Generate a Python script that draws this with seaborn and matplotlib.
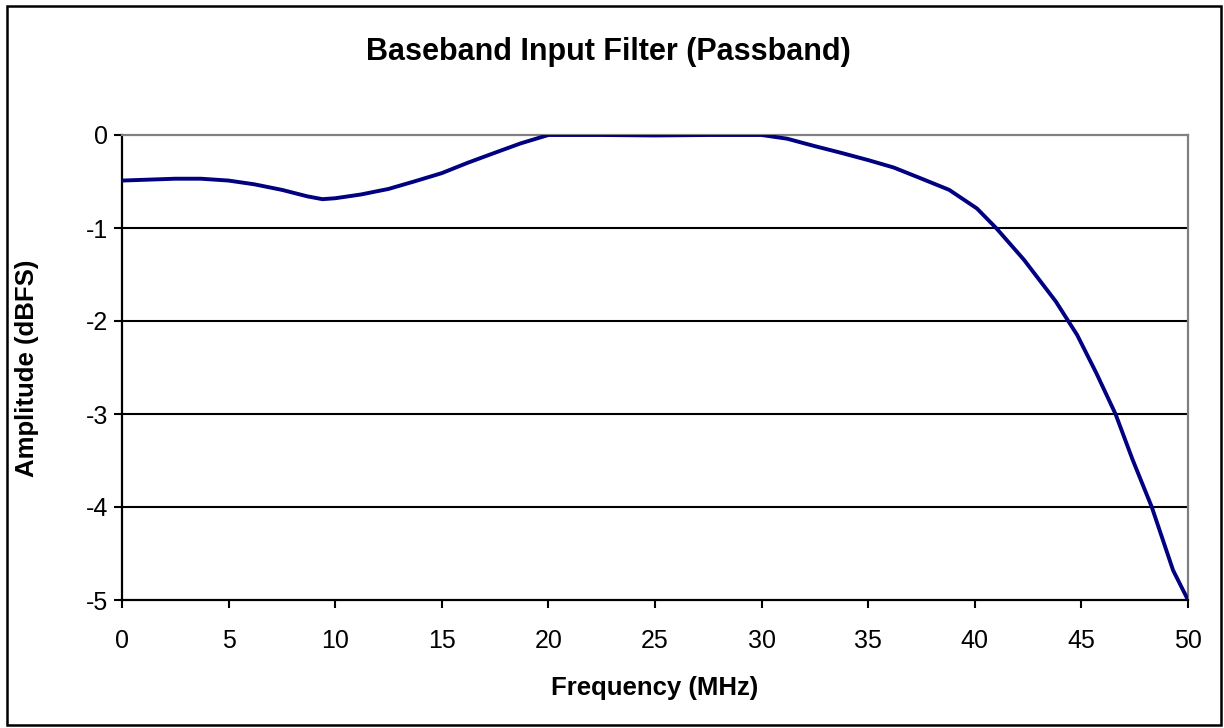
import numpy as np
import pandas as pd
import matplotlib
matplotlib.use("Agg")
import matplotlib.pyplot as plt
import seaborn as sns

# frequency points (MHz) and amplitude (dBFS)
freq = [0, 1.25, 2.5, 3.7, 5, 6.2, 7.5, 8.7, 9.4, 10, 11.2, 12.5, 13.7, 15, 16.2,
        17.5, 18.7, 20, 22.5, 25, 27.5, 30, 31.2, 32.5, 33.7, 35, 36.2, 37.4,
        38.8, 40.1, 41.0, 42.3, 43.8, 44.8, 45.7, 46.6, 47.4, 48.3, 49.3, 50]
amp = [-0.49, -0.48, -0.47, -0.47, -0.49, -0.53, -0.59, -0.66, -0.69, -0.68,
       -0.64, -0.58, -0.50, -0.41, -0.30, -0.19, -0.09, 0.0, 0.0, -0.005, 0.0,
       0.0, -0.04, -0.12, -0.19, -0.27, -0.35, -0.46, -0.59, -0.79, -1.0, -1.34,
       -1.79, -2.15, -2.56, -3.0, -3.49, -4.0, -4.68, -5.0]
xticks = [0, 5, 10, 15, 20, 25, 30, 35, 40, 45, 50]
yticks = [0, -1, -2, -3, -4, -5]

df = pd.DataFrame({"freq": freq, "amp": amp})

sns.set_style("white")
plt.rcParams['font.family'] = ['Liberation Sans', 'DejaVu Sans']
plt.rcParams['text.color'] = 'black'

fig = plt.figure(figsize=(12.24, 7.28), dpi=100)
ax = fig.add_axes([122/1224, 1-600/728, (1188-122)/1224, (600-135)/728])

# horizontal gridlines like excel
for y in yticks[1:-1]:
    ax.axhline(y, color='black', lw=1.5, zorder=1)

sns.lineplot(data=df, x='freq', y='amp', color='#000080', lw=2.8, ax=ax, zorder=3)

ax.set_xlim(0, 50)
ax.set_ylim(-5, 0)
ax.set_xticks(xticks)
ax.set_yticks(yticks)
ax.set_xticklabels([str(t) for t in xticks], fontsize=18)
ax.set_yticklabels([str(t) for t in yticks], fontsize=18)
ax.tick_params(axis='both', direction='out', length=6, width=1.5, color='black',
               labelcolor='black', bottom=True, left=True)
ax.tick_params(axis='x', pad=15)
ax.tick_params(axis='y', pad=4)
ax.set_xlabel('')
ax.set_ylabel('')

for s in ['left', 'bottom']:
    ax.spines[s].set_color('black')
    ax.spines[s].set_linewidth(1.6)
for s in ['top', 'right']:
    ax.spines[s].set_color('#808080')
    ax.spines[s].set_linewidth(1.6)

fig.text(608/1224, 1-52/728, 'Baseband Input Filter (Passband)', ha='center', va='center',
         fontsize=22, fontweight='bold')
fig.text(655/1224, 1-688/728, 'Frequency (MHz)', ha='center', va='center',
         fontsize=18.5, fontweight='bold')
fig.text(27/1224, 1-368/728, 'Amplitude (dBFS)', ha='center', va='center',
         rotation=90, fontsize=18.5, fontweight='bold')

# border round the whole chart area
fig.patches.append(plt.Rectangle((7/1224, 3/728), 1214/1224, 719/728,
                                 transform=fig.transFigure, fill=False,
                                 edgecolor='black', lw=1.8))

fig.savefig('out.png', dpi=100)
